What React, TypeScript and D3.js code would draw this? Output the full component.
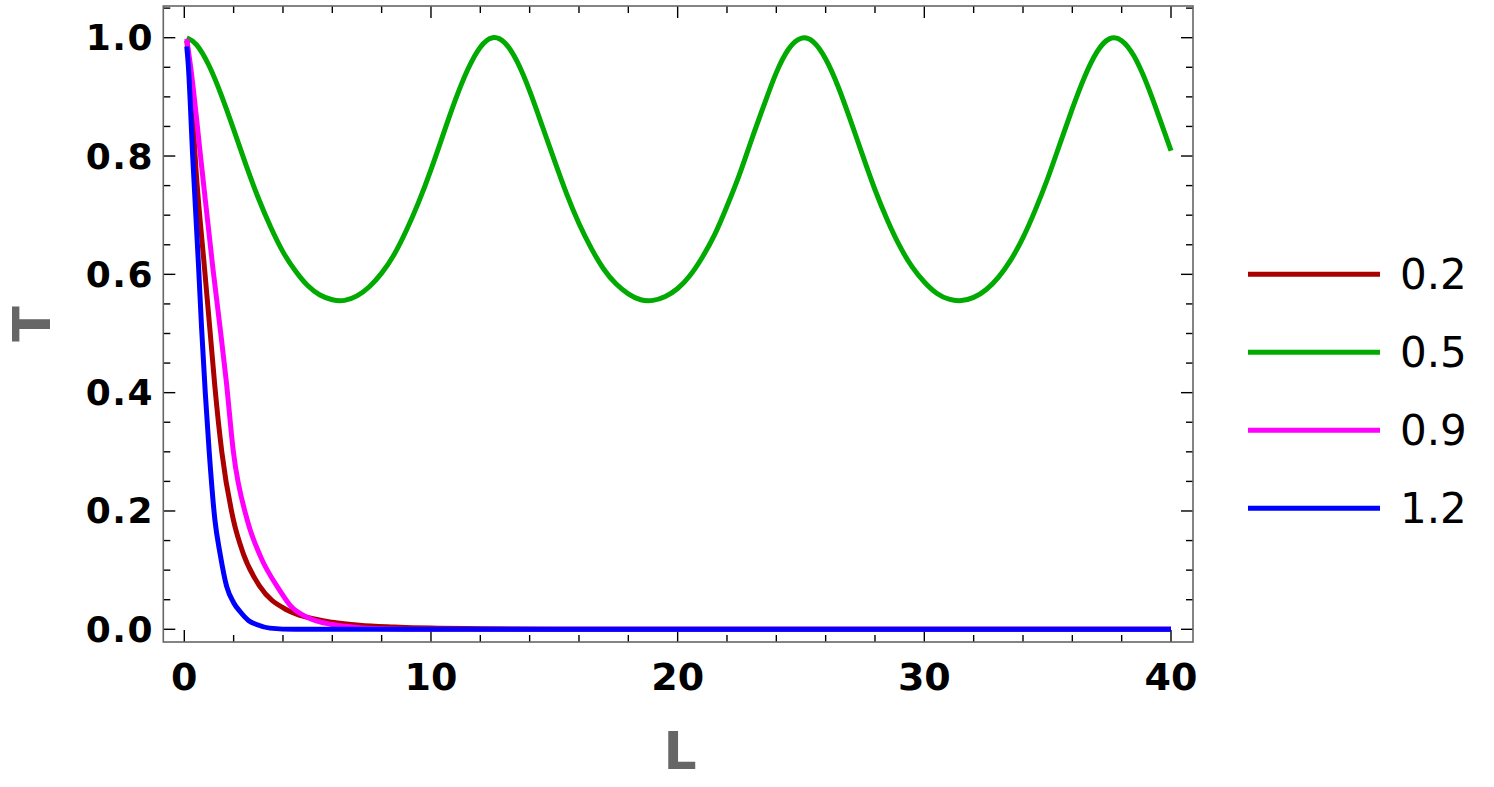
import React from "react";
import * as d3 from "d3";

// ---- Data ----
const seriesLabels = ["0.2", "0.5", "0.9", "1.2"];
const seriesColors = ["#aa0000", "#00aa00", "#ff00ff", "#0000ff"];

// 0.2 (red)
const red: [number, number][] = [
  [0.1, 0.995], [0.25, 0.93], [0.47, 0.78], [0.82, 0.61], [1.04, 0.506], [1.24, 0.41],
  [1.52, 0.3], [1.99, 0.185], [2.39, 0.128], [3.07, 0.072], [4.15, 0.033],
  [5.0, 0.02], [6.0, 0.012], [7.1, 0.007], [8.5, 0.004], [10, 0.002], [12, 0.001],
  [15, 0.0], [20, 0.0], [30, 0.0], [40, 0.0],
];

// 0.5 (green): L from 0 to 40 in steps of 0.5
const greenL = d3.range(0, 40.01, 0.5);
const greenT = [
  1.0, 0.988, 0.953, 0.903, 0.845, 0.785, 0.729, 0.68, 0.638, 0.606,
  0.581, 0.565, 0.557, 0.556, 0.5635, 0.579, 0.602, 0.633, 0.674, 0.722,
  0.777, 0.837, 0.896, 0.947, 0.984, 1.0, 0.991, 0.959, 0.91, 0.852,
  0.793, 0.736, 0.686, 0.644, 0.609, 0.584, 0.567, 0.557, 0.556, 0.5625,
  0.576, 0.598, 0.629, 0.667, 0.715, 0.768, 0.828, 0.886, 0.941, 0.981,
  0.999, 0.993, 0.964, 0.918, 0.861, 0.801, 0.743, 0.692, 0.648, 0.613,
  0.587, 0.568, 0.558, 0.5557, 0.561, 0.574, 0.595, 0.624, 0.662, 0.709,
  0.762, 0.821, 0.88, 0.934, 0.976, 0.998, 0.995, 0.969, 0.924, 0.868,
  0.809,
];
const green: [number, number][] = greenL.map((l, i) => [Math.max(l, 0.1), greenT[i]]);

// 0.9 (magenta)
const magenta: [number, number][] = [
  [0.1, 0.998], [0.26, 0.95], [0.71, 0.78], [1.16, 0.61], [1.45, 0.51], [1.7, 0.42],
  [1.99, 0.3], [2.55, 0.185], [3.07, 0.125], [3.88, 0.065], [4.3, 0.04], [5.0, 0.02],
  [6.0, 0.008], [7.0, 0.003], [8.0, 0.001], [10, 0.0], [20, 0.0], [30, 0.0], [40, 0.0],
];

// 1.2 (blue)
const blue: [number, number][] = [
  [0.1, 0.985], [0.16, 0.955], [0.34, 0.8], [0.57, 0.62], [0.7, 0.51], [0.85, 0.4],
  [1.01, 0.3], [1.24, 0.185], [1.45, 0.128], [1.72, 0.072], [2.0, 0.045], [2.26, 0.03],
  [2.6, 0.015], [2.93, 0.008], [3.47, 0.002], [4.5, 0.0], [10, 0.0], [20, 0.0],
  [30, 0.0], [40, 0.0],
];

const xMajorTicks = [0, 10, 20, 30, 40];
const yMajorTicks = [0, 0.2, 0.4, 0.6, 0.8, 1.0];

export default function App() {
  const W = 1494;
  const H = 787;
  const frameL = 163.3, frameR = 1193, frameT = 6, frameB = 642;

  const x = d3.scaleLinear().domain([0, 40]).range([184.3, 1171]);
  const y = d3.scaleLinear().domain([0, 1]).range([629.3, 37.7]);

  const lineMono = d3
    .line<[number, number]>()
    .x((d) => x(d[0]))
    .y((d) => y(d[1]))
    .curve(d3.curveMonotoneX);
  const lineSmooth = d3
    .line<[number, number]>()
    .x((d) => x(d[0]))
    .y((d) => y(d[1]))
    .curve(d3.curveNatural);

  const allSeries = [red, green, magenta, blue];

  const xMinor = d3.range(0, 41, 2).filter((v) => !xMajorTicks.includes(v));
  const yMinor = d3
    .range(0, 1.051, 0.05)
    .map((v) => Math.round(v * 100) / 100)
    .filter((v) => !yMajorTicks.some((m) => Math.abs(m - v) < 1e-6));

  const MAJ = 12, MIN = 7;
  const tickStroke = "#000";

  return (
    <svg
      width={W}
      height={H}
      style={{ position: "absolute", left: 0, top: 0, background: "#fff" }}
    >
      <defs>
        <clipPath id="plotclip">
          <rect x={frameL} y={frameT} width={frameR - frameL} height={frameB - frameT} />
        </clipPath>
      </defs>

      {/* ticks */}
      <g stroke={tickStroke} strokeWidth={1.4}>
        {xMajorTicks.map((v) => (
          <g key={"xM" + v}>
            <line x1={x(v)} x2={x(v)} y1={frameB} y2={frameB - MAJ} />
            <line x1={x(v)} x2={x(v)} y1={frameT} y2={frameT + MAJ} />
          </g>
        ))}
        {xMinor.map((v) => (
          <g key={"xm" + v}>
            <line x1={x(v)} x2={x(v)} y1={frameB} y2={frameB - MIN} />
            <line x1={x(v)} x2={x(v)} y1={frameT} y2={frameT + MIN} />
          </g>
        ))}
        {yMajorTicks.map((v) => (
          <g key={"yM" + v}>
            <line x1={frameL} x2={frameL + MAJ} y1={y(v)} y2={y(v)} />
            <line x1={frameR} x2={frameR - MAJ} y1={y(v)} y2={y(v)} />
          </g>
        ))}
        {yMinor.map((v) => (
          <g key={"ym" + v}>
            <line x1={frameL} x2={frameL + MIN} y1={y(v)} y2={y(v)} />
            <line x1={frameR} x2={frameR - MIN} y1={y(v)} y2={y(v)} />
          </g>
        ))}
      </g>

      {/* curves */}
      <g clipPath="url(#plotclip)" fill="none" strokeWidth={5} strokeLinejoin="round">
        {allSeries.map((s, i) => (
          <path
            key={i}
            d={(i === 1 ? lineSmooth(s) : lineMono(s)) || ""}
            stroke={seriesColors[i]}
          />
        ))}
      </g>

      {/* frame */}
      <rect
        x={frameL}
        y={frameT}
        width={frameR - frameL}
        height={frameB - frameT}
        fill="none"
        stroke="#666"
        strokeWidth={1.6}
      />

      {/* tick labels */}
      <g fontFamily="DejaVu Sans" fontWeight="bold" fill="#000">
        {yMajorTicks.map((v) => (
          <text
            key={"yl" + v}
            x={154}
            y={y(v)}
            textAnchor="end"
            dominantBaseline="central"
            fontSize={36}
            letterSpacing={1.5}
          >
            {d3.format(".1f")(v)}
          </text>
        ))}
        {xMajorTicks.map((v) => (
          <text
            key={"xl" + v}
            x={x(v)}
            y={690}
            textAnchor="middle"
            fontSize={38}
          >
            {String(v)}
          </text>
        ))}
      </g>

      {/* axis labels */}
      <text
        x={680}
        y={769}
        textAnchor="middle"
        fontFamily="DejaVu Sans"
        fontWeight="bold"
        fontSize={52}
        fill="#666"
      >
        L
      </text>
      <text
        transform={`translate(50,324) rotate(-90)`}
        textAnchor="middle"
        fontFamily="DejaVu Sans"
        fontWeight="bold"
        fontSize={52}
        fill="#666"
      >
        T
      </text>

      {/* legend */}
      <g>
        {seriesLabels.map((lab, i) => {
          const ly = 274.3 + i * 78;
          return (
            <g key={lab}>
              <line x1={1248} x2={1380} y1={ly} y2={ly} stroke={seriesColors[i]} strokeWidth={5} />
              <text
                x={1400}
                y={ly}
                dominantBaseline="central"
                fontFamily="DejaVu Sans"
                fontSize={42}
                fill="#000"
              >
                {lab}
              </text>
            </g>
          );
        })}
      </g>
    </svg>
  );
}
